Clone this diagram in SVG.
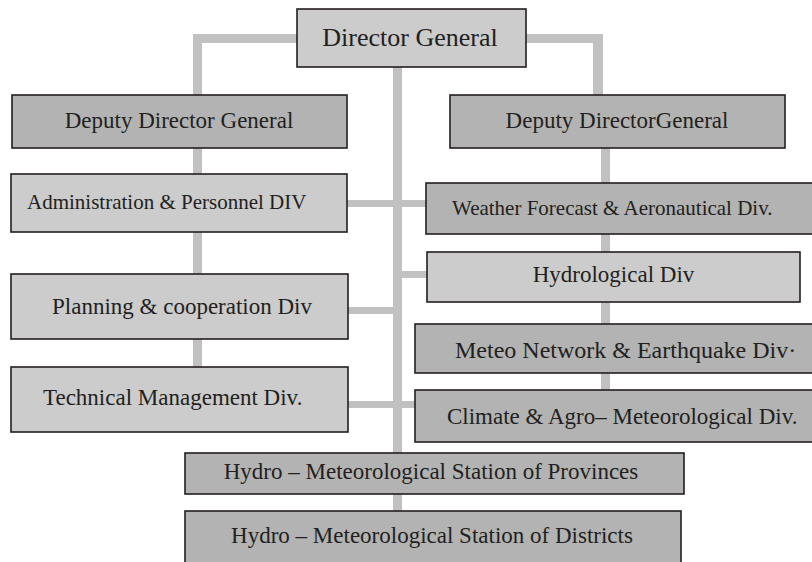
<svg xmlns="http://www.w3.org/2000/svg" width="812" height="562" viewBox="0 0 812 562">
<style>
.light{fill:#cbcccb;stroke:#231f20;stroke-width:1.6}
.dark{fill:#b2b3b2;stroke:#231f20;stroke-width:1.6}
.conn{fill:#c1c1c1;stroke:none}
text{font-family:"Liberation Serif","Times New Roman",serif;fill:#231f20;font-size:23px}
.c{text-anchor:middle}
</style>
<rect width="812" height="562" fill="#ffffff"/>
<g id="connectors">
<rect class="conn" x="193" y="34" width="105" height="9"/>
<rect class="conn" x="193" y="34" width="9" height="334"/>
<rect class="conn" x="525" y="34" width="78" height="9"/>
<rect class="conn" x="593" y="34" width="10" height="62"/>
<rect class="conn" x="601" y="147" width="9" height="244"/>
<rect class="conn" x="393" y="66" width="9" height="446"/>
<rect class="conn" x="346" y="200" width="81" height="7"/>
<rect class="conn" x="397" y="271" width="31" height="7"/>
<rect class="conn" x="347" y="307" width="50" height="7"/>
<rect class="conn" x="347" y="401" width="69" height="7"/>
</g>
<g id="director-general">
<rect class="light" x="297" y="9" width="229" height="58"/>
<text class="c" x="410" y="46" style="font-size:26px">Director General</text>
</g>
<g id="deputy-left">
<rect class="dark" x="12" y="95" width="335" height="53"/>
<text class="c" x="179" y="128">Deputy Director General</text>
</g>
<g id="deputy-right">
<rect class="dark" x="450" y="95" width="335" height="53"/>
<text class="c" x="617" y="128">Deputy DirectorGeneral</text>
</g>
<g id="administration">
<rect class="light" x="11" y="174" width="336" height="58"/>
<text x="27" y="209" style="font-size:21px">Administration &amp; Personnel DIV</text>
</g>
<g id="weather">
<rect class="dark" x="426" y="183" width="400" height="51"/>
<text x="452" y="215" style="font-size:21px">Weather Forecast &amp; Aeronautical Div.</text>
</g>
<g id="hydrological">
<rect class="light" x="427" y="252" width="373" height="50"/>
<text class="c" x="613.5" y="282">Hydrological Div</text>
</g>
<g id="planning">
<rect class="light" x="11" y="274" width="337" height="65"/>
<text class="c" x="182" y="314">Planning &amp; cooperation Div</text>
</g>
<g id="meteo-network">
<rect class="dark" x="415" y="324" width="410" height="49"/>
<text x="455" y="358" style="font-size:24px">Meteo Network &amp; Earthquake Div·</text>
</g>
<g id="technical">
<rect class="light" x="11" y="367" width="337" height="65"/>
<text x="43" y="405">Technical Management Div.</text>
</g>
<g id="climate">
<rect class="dark" x="415" y="390" width="410" height="52"/>
<text x="447" y="424">Climate &amp; Agro– Meteorological Div.</text>
</g>
<g id="provinces">
<rect class="dark" x="185" y="453" width="499" height="41"/>
<text class="c" x="431" y="479">Hydro – Meteorological Station of Provinces</text>
</g>
<g id="districts">
<rect class="dark" x="185" y="511" width="496" height="60"/>
<text class="c" x="432" y="543">Hydro – Meteorological Station of Districts</text>
</g>
</svg>
